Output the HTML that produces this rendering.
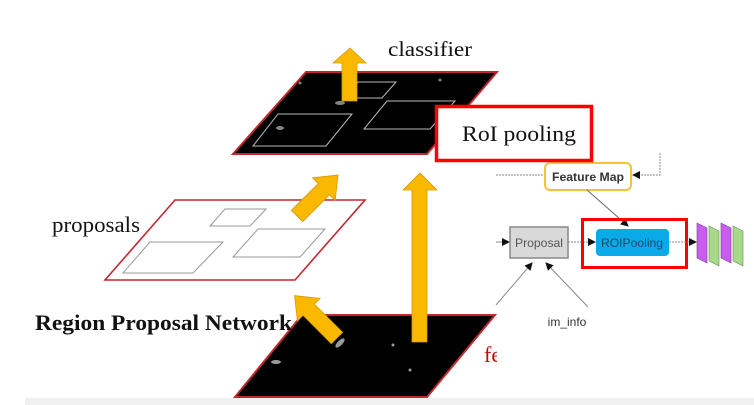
<!DOCTYPE html>
<html><head><meta charset="utf-8"><style>
html,body{margin:0;padding:0;background:#fff;width:754px;height:405px;overflow:hidden}
svg{display:block}
</style></head><body>
<svg width="754" height="405" viewBox="0 0 754 405" xmlns="http://www.w3.org/2000/svg">
<defs>
<marker id="ah" markerWidth="8" markerHeight="8" refX="7" refY="4" orient="auto" markerUnits="userSpaceOnUse"><path d="M0,0 L8,4 L0,8 Z" fill="#111"/></marker>
<clipPath id="cl"><rect x="0" y="0" width="497" height="405"/></clipPath>
</defs>
<rect x="25" y="398" width="729" height="7" fill="#f0f0f0"/>
<polygon points="306,72 497,72 427,154 233,154" fill="#000" stroke="#c0282e" stroke-width="2"/>
<g fill="none" stroke="#bbb" stroke-width="1">
<polygon points="358,82 396,82 382,98 344,98"/>
<polygon points="278,114 352,114 326,146 253,146"/>
<polygon points="387,101 455,101 430,129 364,129"/>
</g>
<g fill="#ddd" opacity="0.6"><ellipse cx="340" cy="103" rx="5" ry="2"/><ellipse cx="280" cy="128" rx="4" ry="2"/><circle cx="300" cy="83" r="1.5"/><circle cx="440" cy="80" r="1.5"/></g>
<polygon points="342,101 357,101 357,63 366,63 350,48 333,63 342,63" fill="#fbb800" stroke="#d59a00" stroke-width="0.8"/>
<text x="388" y="56" font-family="Liberation Serif, serif" font-size="21" textLength="84" lengthAdjust="spacingAndGlyphs" fill="#111">classifier</text>
<polygon points="175,200 365,200 295,280 105,280" fill="#fff" stroke="#c0282e" stroke-width="1.6"/>
<g fill="none" stroke="#999" stroke-width="1">
<polygon points="225,209 266,209 250,226 210,226"/>
<polygon points="150,242 223,242 193,273 123,273"/>
<polygon points="258,229 325,229 300,257 233,257"/>
</g>
<text x="52" y="232" font-family="Liberation Serif, serif" font-size="22" textLength="88" lengthAdjust="spacingAndGlyphs" fill="#111">proposals</text>
<g transform="translate(297,216) rotate(-45)"><polygon points="0,-8 38,-8 38,-16 58,0 38,16 38,8 0,8" fill="#fbb800" stroke="#d59a00" stroke-width="0.8"/></g>
<polygon points="302,315 495,315 427,397 235,397" fill="#000" stroke="#c0282e" stroke-width="2"/>
<g fill="#ddd" opacity="0.7"><ellipse cx="340" cy="343" rx="6" ry="2.5" transform="rotate(-45 340 343)"/><ellipse cx="276" cy="362" rx="5" ry="2"/><circle cx="393" cy="345" r="1.5"/><circle cx="410" cy="370" r="1.5"/></g>
<g transform="translate(337,338) rotate(-135)"><polygon points="0,-8 40,-8 40,-16 60,0 40,16 40,8 0,8" fill="#fbb800" stroke="#d59a00" stroke-width="0.8"/></g>
<polygon points="412,342 427,342 427,190 437,190 420,173 403,190 412,190" fill="#fbb800" stroke="#d59a00" stroke-width="0.8"/>
<text x="35" y="330" font-family="Liberation Serif, serif" font-size="22" font-weight="bold" textLength="257" lengthAdjust="spacingAndGlyphs" fill="#111">Region Proposal Network</text>
<text x="484" y="362" font-family="Liberation Serif, serif" font-size="22" fill="#c00" clip-path="url(#cl)">fe</text>
<line x1="496" y1="175" x2="545" y2="175" stroke="#888" stroke-dasharray="2,1"/>
<polyline points="660,153 660,175 640,175" fill="none" stroke="#888" stroke-dasharray="2,1"/>
<polygon points="632,175 640,171 640,179" fill="#111"/>
<rect x="545" y="163" width="86" height="27" rx="5" fill="#fff" stroke="#f5c23a" stroke-width="2"/>
<text x="588" y="181" text-anchor="middle" font-family="Liberation Sans, sans-serif" font-size="12" font-weight="bold" textLength="72" lengthAdjust="spacingAndGlyphs" fill="#333">Feature Map</text>
<line x1="587" y1="190" x2="628" y2="226" stroke="#666" marker-end="url(#ah)"/>
<line x1="496" y1="242" x2="509" y2="242" stroke="#888" marker-end="url(#ah)"/>
<rect x="510" y="227" width="58" height="31" fill="#d9d9d9" stroke="#888" stroke-width="1.5"/>
<text x="539" y="247" text-anchor="middle" font-family="Liberation Sans, sans-serif" font-size="12" textLength="48" lengthAdjust="spacingAndGlyphs" fill="#555">Proposal</text>
<line x1="568" y1="242" x2="595" y2="242" stroke="#888" stroke-dasharray="2,1" marker-end="url(#ah)"/>
<rect x="596" y="229" width="73" height="27" rx="4" fill="#0aaae8"/>
<text x="632" y="247" text-anchor="middle" font-family="Liberation Sans, sans-serif" font-size="12" textLength="62" lengthAdjust="spacingAndGlyphs" fill="#1a4a6a">ROIPooling</text>
<rect x="582.5" y="219.5" width="104" height="48" fill="none" stroke="#f00" stroke-width="3"/>
<line x1="669" y1="242" x2="696" y2="242" stroke="#888" stroke-dasharray="2,1" marker-end="url(#ah)"/>
<polygon points="697,223 707,228 707,263 697,258" fill="#c85ef0" stroke="#7a3a90" stroke-width="0.6"/>
<polygon points="709,226 719,231 719,266 709,261" fill="#a8d88a" stroke="#6a8a50" stroke-width="0.6"/>
<polygon points="721,223 731,228 731,263 721,258" fill="#c85ef0" stroke="#7a3a90" stroke-width="0.6"/>
<polygon points="733,226 743,231 743,266 733,261" fill="#a8d88a" stroke="#6a8a50" stroke-width="0.6"/>
<line x1="496" y1="305" x2="532" y2="263" stroke="#888" marker-end="url(#ah)"/>
<line x1="588" y1="307" x2="546" y2="263" stroke="#888" marker-end="url(#ah)"/>
<text x="567" y="326" text-anchor="middle" font-family="Liberation Sans, sans-serif" font-size="12" fill="#333">im_info</text>
<rect x="436.5" y="106.5" width="155" height="54" fill="#fff" stroke="#f00" stroke-width="3.5"/>
<text x="462" y="141" font-family="Liberation Serif, serif" font-size="22" textLength="114" lengthAdjust="spacingAndGlyphs" fill="#111">RoI pooling</text>
</svg>
</body></html>
